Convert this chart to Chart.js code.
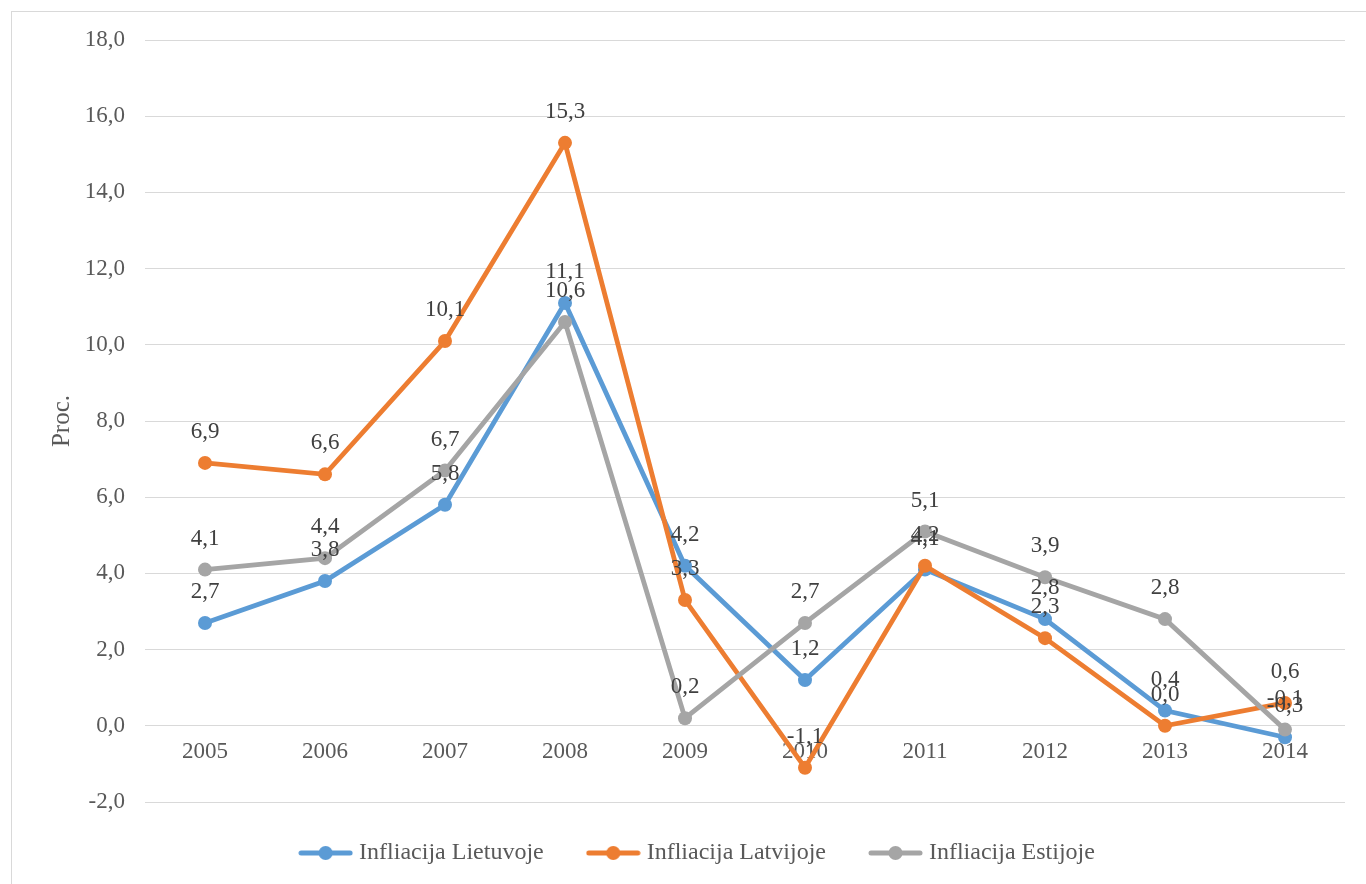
<!DOCTYPE html>
<html>
<head>
<meta charset="utf-8">
<script src="https://cdn.jsdelivr.net/npm/chart.js@4/dist/chart.umd.min.js"></script>
<style>
  html, body { margin: 0; padding: 0; background: #ffffff; overflow: hidden; }
  #wrap { position: relative; width: 1366px; height: 884px; }
  #frame { position: absolute; left: 11px; top: 11px; width: 1400px; height: 900px; border: 1px solid #d9d9d9; box-sizing: border-box; pointer-events: none; }
  canvas { position: absolute; left: 0; top: 0; }
</style>
</head>
<body>
<div id="wrap">
  <div id="frame"></div>
  <canvas id="c" width="1366" height="884"></canvas>
</div>
<script>
// ---- data ----
const years = ['2005', '2006', '2007', '2008', '2009', '2010', '2011', '2012', '2013', '2014'];
const lithuania = [2.7, 3.8, 5.8, 11.1, 4.2, 1.2, 4.1, 2.8, 0.4, -0.3];
const latvia    = [6.9, 6.6, 10.1, 15.3, 3.3, -1.1, 4.2, 2.3, 0.0, 0.6];
const estonia   = [4.1, 4.4, 6.7, 10.6, 0.2, 2.7, 5.1, 3.9, 2.8, -0.1];
const seriesNames = ['Infliacija Lietuvoje', 'Infliacija Latvijoje', 'Infliacija Estijoje'];
const yTitle = 'Proc.';
const yMin = -2, yMax = 18, yStep = 2;

const colors = ['#5B9BD5', '#ED7D31', '#A5A5A5'];
const FONT = '"Liberation Serif", "Times New Roman", serif';
const fmt = v => v.toFixed(1).replace('.', ',');

function legendMarker(color) {
  const cv = document.createElement('canvas');
  cv.width = 55; cv.height = 16;
  const g = cv.getContext('2d');
  g.strokeStyle = color; g.lineWidth = 5; g.lineCap = 'round';
  g.beginPath(); g.moveTo(3, 8); g.lineTo(52, 8); g.stroke();
  g.fillStyle = color;
  g.beginPath(); g.arc(27.5, 8, 7, 0, Math.PI * 2); g.fill();
  return cv;
}
const markers = colors.map(legendMarker);

const dataLabels = {
  id: 'dataLabels',
  afterDatasetsDraw(chart) {
    const ctx = chart.ctx;
    ctx.save();
    ctx.font = '23px ' + FONT;
    ctx.fillStyle = '#404040';
    ctx.textAlign = 'center';
    ctx.textBaseline = 'middle';
    chart.data.datasets.forEach((ds, i) => {
      const meta = chart.getDatasetMeta(i);
      meta.data.forEach((pt, j) => {
        ctx.fillText(fmt(ds.data[j]), pt.x, pt.y - 31);
      });
    });
    ctx.restore();
  }
};

const shiftLegend = {
  id: 'shiftLegend',
  afterLayout(chart) {
    const lg = chart.legend;
    if (lg) { lg.left += 27; lg.right += 27; lg.top -= 9; lg.bottom -= 9; }
  }
};

function ds(label, data, color, order) {
  return {
    label, data, order,
    borderColor: color, backgroundColor: color,
    pointBackgroundColor: color, pointBorderColor: color,
    borderWidth: 4.8, pointRadius: 7, pointHoverRadius: 7, pointBorderWidth: 0,
    tension: 0, fill: false
  };
}

new Chart(document.getElementById('c'), {
  type: 'line',
  data: {
    labels: years,
    datasets: [
      ds(seriesNames[0], lithuania, colors[0], 3),
      ds(seriesNames[1], latvia, colors[1], 2),
      ds(seriesNames[2], estonia, colors[2], 1)
    ]
  },
  options: {
    responsive: false,
    animation: false,
    devicePixelRatio: 1,
    layout: { padding: { top: 40, right: 21, left: 0, bottom: 0 } },
    plugins: {
      tooltip: { enabled: false },
      legend: {
        position: 'bottom',
        labels: {
          font: { family: FONT, size: 24 },
          color: '#595959',
          usePointStyle: true,
          pointStyleWidth: 43,
          padding: 48,
          sort: (a, b) => a.datasetIndex - b.datasetIndex,
          generateLabels(chart) {
            const items = Chart.defaults.plugins.legend.labels.generateLabels(chart);
            items.forEach(it => { it.pointStyle = markers[it.datasetIndex]; });
            return items;
          }
        }
      }
    },
    scales: {
      x: {
        type: 'category',
        position: { y: 0 },
        offset: true,
        grid: { display: false, drawTicks: false },
        border: { display: false },
        ticks: { color: '#595959', font: { family: FONT, size: 23 }, padding: 12, maxRotation: 0, autoSkip: false }
      },
      y: {
        min: yMin, max: yMax,
        afterFit(scale) { scale.width = 145; },
        grid: { color: '#d9d9d9', lineWidth: 1, drawTicks: false },
        border: { display: false },
        ticks: { stepSize: yStep, color: '#595959', font: { family: FONT, size: 23 }, padding: 20, callback: v => fmt(v) },
        title: { display: true, text: yTitle, color: '#595959', font: { family: FONT, size: 25 }, padding: { top: 47, bottom: 0 } }
      }
    }
  },
  plugins: [dataLabels, shiftLegend]
});
</script>
</body>
</html>
